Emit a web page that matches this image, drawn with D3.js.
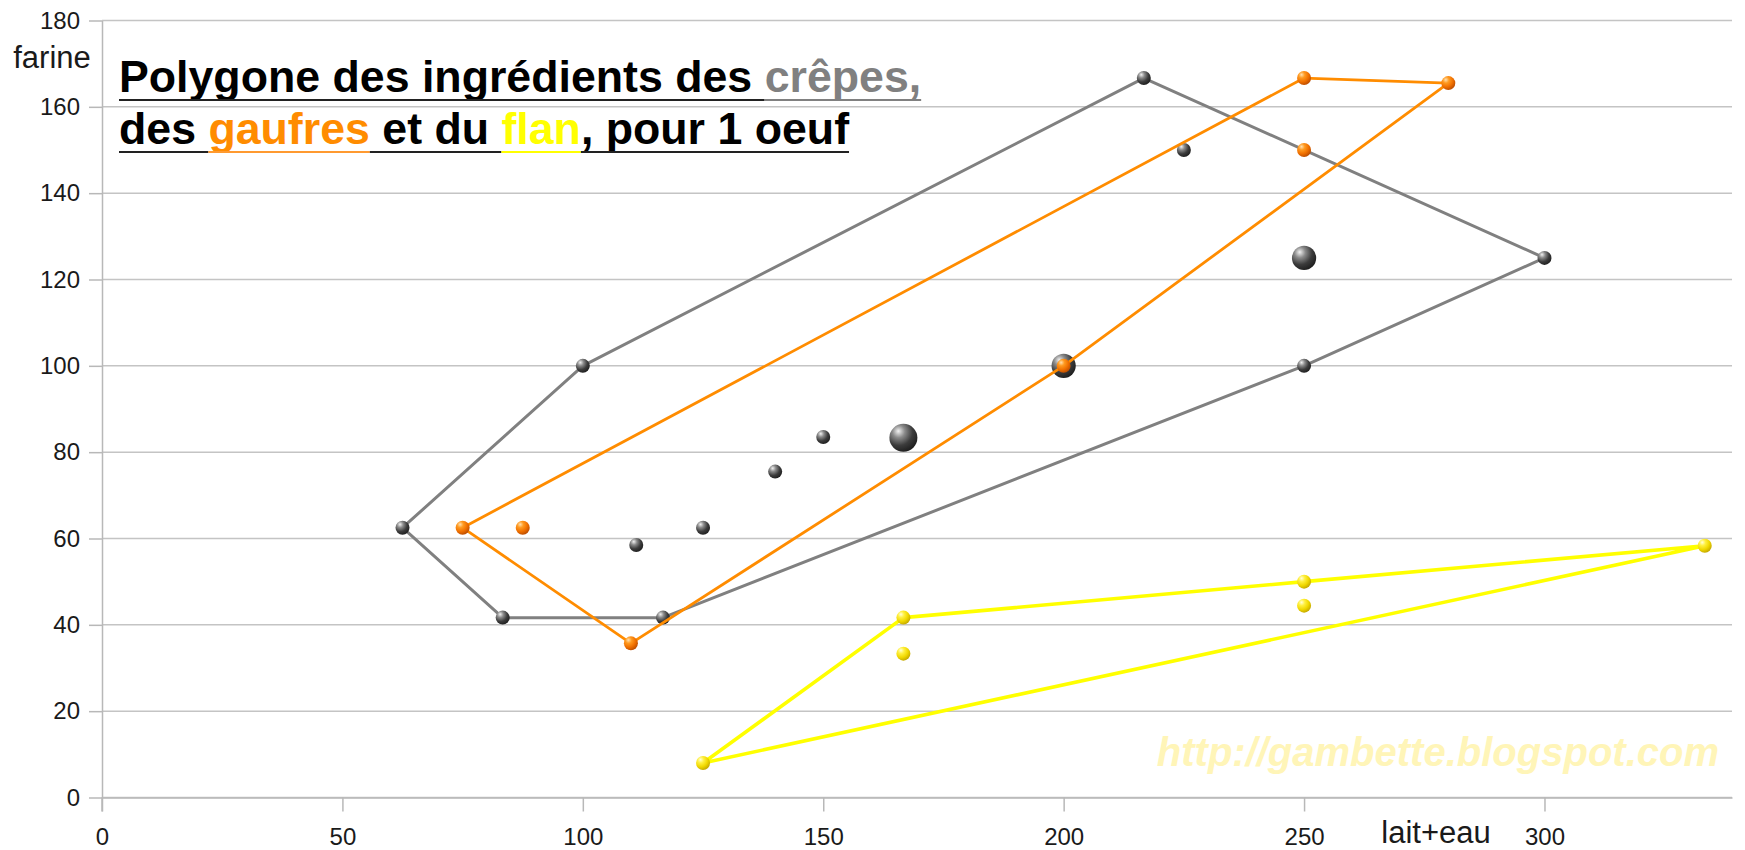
<!DOCTYPE html>
<html>
<head>
<meta charset="utf-8">
<script src="https://cdn.jsdelivr.net/npm/d3@7"></script>
<style>
  html, body { margin: 0; padding: 0; background: #fff; }
  svg { display: block; }
</style>
</head>
<body>
<svg id="chart" width="1745" height="850"></svg>
<script>
// lait+eau (x), farine (y), size (number of recipes)
const crepesHull = [[62.5, 62.5], [100, 100], [216.67, 166.67], [300, 125], [250, 100], [116.67, 41.67], [83.33, 41.67]];
const crepesPoints = [
  [62.5, 62.5, 1], [100, 100, 1], [216.67, 166.67, 1], [300, 125, 1], [250, 100, 1],
  [116.67, 41.67, 1], [83.33, 41.67, 1], [111.11, 58.5, 1], [125, 62.5, 1], [140, 75.5, 1],
  [150, 83.5, 1], [166.67, 83.33, 4], [200, 100, 3], [225, 150, 1], [250, 125, 3]
];
const gaufresHull = [[75, 62.5], [110, 35.71], [200, 100], [280, 165.5], [250, 166.67]];
const gaufresPoints = [
  [75, 62.5, 1], [110, 35.71, 1], [200, 100, 1], [280, 165.5, 1], [250, 166.67, 1],
  [87.5, 62.5, 1], [250, 150, 1]
];
const flanHull = [[125, 8], [166.67, 41.67], [250, 50], [333.33, 58.33]];
const flanPoints = [
  [125, 8, 1], [166.67, 41.67, 1], [250, 50, 1], [333.33, 58.33, 1],
  [166.67, 33.33, 1], [250, 44.44, 1]
];

const xTicks = [0, 50, 100, 150, 200, 250, 300];
const yTicks = [0, 20, 40, 60, 80, 100, 120, 140, 160, 180];

const svg = d3.select('#chart');
const font = "'Liberation Sans', Arial, sans-serif";

const x = d3.scaleLinear().domain([0, 339]).range([102, 1732]);
const y = d3.scaleLinear().domain([0, 180]).range([797.5, 20.5]);
const r = d3.scaleSqrt().domain([0, 4]).range([0, 14]);

// gradients for the shaded balls
const defs = svg.append('defs');
const balls = {
  grey: ['#f2f2f2', '#8a8a8a', '#3c3c3c', '#1c1c1c'],
  orange: ['#ffe0b0', '#ff9a20', '#f07000', '#b84a00'],
  yellow: ['#ffffd8', '#fff040', '#f0d800', '#c0a400']
};
Object.keys(balls).forEach(k => {
  const g = defs.append('radialGradient')
    .attr('id', 'ball-' + k)
    .attr('cx', '35%').attr('cy', '30%').attr('r', '75%')
    .attr('fx', '32%').attr('fy', '26%');
  [0, 0.3, 0.65, 1].forEach((o, i) => {
    g.append('stop').attr('offset', o).attr('stop-color', balls[k][i]);
  });
});

// gridlines
svg.append('g')
  .selectAll('line')
  .data(yTicks)
  .enter()
  .append('line')
  .attr('x1', x(0)).attr('x2', x(339))
  .attr('y1', d => y(d)).attr('y2', d => y(d))
  .attr('stroke', '#c4c4c4')
  .attr('stroke-width', 1.5);

// axes
const yAxis = svg.append('g')
  .attr('transform', `translate(${x(0)},0)`)
  .call(d3.axisLeft(y).tickValues(yTicks).tickSize(13).tickSizeOuter(0).tickPadding(9));
const xAxis = svg.append('g')
  .attr('transform', `translate(0,${y(0)})`)
  .call(d3.axisBottom(x).tickValues(xTicks).tickSize(14).tickSizeOuter(0).tickPadding(16));

[yAxis, xAxis].forEach(a => {
  a.selectAll('.domain').attr('stroke', '#b8b8b8').attr('stroke-width', 1.5);
  a.selectAll('.tick line').attr('stroke', '#b8b8b8').attr('stroke-width', 1.5);
  a.selectAll('.tick text')
    .attr('fill', '#1a1a1a')
    .style('font-family', font)
    .style('font-size', '24px');
});
// y axis continues down to the x tick length
svg.append('line')
  .attr('x1', x(0)).attr('x2', x(0))
  .attr('y1', y(0)).attr('y2', y(0) + 14)
  .attr('stroke', '#b8b8b8').attr('stroke-width', 1.5);

// axis titles
svg.append('text')
  .attr('x', 52).attr('y', 68)
  .attr('text-anchor', 'middle')
  .attr('fill', '#1a1a1a')
  .style('font-family', font)
  .style('font-size', '31px')
  .text('farine');
svg.append('text')
  .attr('x', 1436).attr('y', 843)
  .attr('text-anchor', 'middle')
  .attr('fill', '#1a1a1a')
  .style('font-family', font)
  .style('font-size', '31px')
  .text('lait+eau');

// watermark
svg.append('text')
  .attr('x', 1719).attr('y', 766)
  .attr('text-anchor', 'end')
  .attr('fill', '#fff5b8')
  .style('font-family', font)
  .style('font-size', '40px')
  .style('font-weight', 'bold')
  .style('font-style', 'italic')
  .text('http://gambette.blogspot.com');

const series = [
  { hull: crepesHull, points: crepesPoints, stroke: '#808080', width: 3, ball: 'grey' },
  { hull: gaufresHull, points: gaufresPoints, stroke: '#ff8c00', width: 2.8, ball: 'orange' },
  { hull: flanHull, points: flanPoints, stroke: '#ffff00', width: 3.6, ball: 'yellow' }
];

const line = d3.line()
  .x(d => x(d[0]))
  .y(d => y(d[1]))
  .curve(d3.curveLinearClosed);

series.forEach(s => {
  const g = svg.append('g');
  g.append('path')
    .attr('d', line(s.hull))
    .attr('fill', 'none')
    .attr('stroke', s.stroke)
    .attr('stroke-width', s.width)
    .attr('stroke-linejoin', 'round');
  g.selectAll('circle')
    .data(s.points.slice().sort((a, b) => b[2] - a[2]))
    .enter()
    .append('circle')
    .attr('cx', d => x(d[0]))
    .attr('cy', d => y(d[1]))
    .attr('r', d => r(d[2]))
    .attr('fill', `url(#ball-${s.ball})`);
});

// title, underlined piece by piece in the colour of each piece
const titleLines = [
  [['Polygone des ingrédients des ', '#000', '#222'], ['crêpes,', '#808080', '#808080']],
  [['des ', '#000', '#222'], ['gaufres', '#ff8c00', '#ff9a30'], [' et du ', '#000', '#222'],
   ['flan', '#ffff00', '#ffff00'], [', pour 1 oeuf', '#000', '#222']]
];
const titleY = [92, 144];
titleLines.forEach((parts, i) => {
  const t = svg.append('text')
    .attr('x', 119).attr('y', titleY[i])
    .style('font-family', font)
    .style('font-size', '44.7px')
    .style('font-weight', 'bold')
    .style('white-space', 'pre');
  parts.forEach(p => {
    const ts = t.append('tspan')
      .attr('fill', p[1])
      .text(p[0]);
    const node = ts.node();
    const x0 = node.getStartPositionOfChar(0).x;
    const w = node.getComputedTextLength();
    svg.append('line')
      .attr('x1', x0).attr('x2', x0 + w)
      .attr('y1', titleY[i] + 8).attr('y2', titleY[i] + 8)
      .attr('stroke', p[2])
      .attr('stroke-width', 2);
  });
});
</script>
</body>
</html>
